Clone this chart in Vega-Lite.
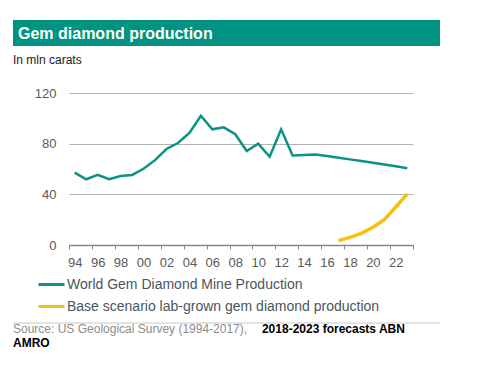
{
  "$schema": "https://vega.github.io/schema/vega-lite/v6.json",
  "padding": {"left": 12, "top": 20, "right": 5, "bottom": 5},
  "background": "white",
  "spacing": 8,
  "align": "none",
  "bounds": "full",
  "resolve": {"scale": {"color": "independent", "x": "independent", "y": "independent"}, "legend": {"color": "independent"}},
  "config": {"view": {"stroke": null}, "font": "Liberation Sans"},
  "datasets": {
    "prod": [
      {"year": 1994, "series": "World Gem Diamond Mine Production", "value": 57.1},
      {"year": 1995, "series": "World Gem Diamond Mine Production", "value": 51.9},
      {"year": 1996, "series": "World Gem Diamond Mine Production", "value": 55.3},
      {"year": 1997, "series": "World Gem Diamond Mine Production", "value": 51.9},
      {"year": 1998, "series": "World Gem Diamond Mine Production", "value": 54.5},
      {"year": 1999, "series": "World Gem Diamond Mine Production", "value": 55.3},
      {"year": 2000, "series": "World Gem Diamond Mine Production", "value": 60.2},
      {"year": 2001, "series": "World Gem Diamond Mine Production", "value": 67.0},
      {"year": 2002, "series": "World Gem Diamond Mine Production", "value": 75.8},
      {"year": 2003, "series": "World Gem Diamond Mine Production", "value": 80.5},
      {"year": 2004, "series": "World Gem Diamond Mine Production", "value": 88.5},
      {"year": 2005, "series": "World Gem Diamond Mine Production", "value": 102.0},
      {"year": 2006, "series": "World Gem Diamond Mine Production", "value": 91.3},
      {"year": 2007, "series": "World Gem Diamond Mine Production", "value": 92.9},
      {"year": 2008, "series": "World Gem Diamond Mine Production", "value": 87.4},
      {"year": 2009, "series": "World Gem Diamond Mine Production", "value": 74.2},
      {"year": 2010, "series": "World Gem Diamond Mine Production", "value": 80.0},
      {"year": 2011, "series": "World Gem Diamond Mine Production", "value": 69.7},
      {"year": 2012, "series": "World Gem Diamond Mine Production", "value": 91.3},
      {"year": 2013, "series": "World Gem Diamond Mine Production", "value": 70.7},
      {"year": 2014, "series": "World Gem Diamond Mine Production", "value": 71.1},
      {"year": 2015, "series": "World Gem Diamond Mine Production", "value": 71.4},
      {"year": 2016, "series": "World Gem Diamond Mine Production", "value": 70.2},
      {"year": 2017, "series": "World Gem Diamond Mine Production", "value": 68.9},
      {"year": 2018, "series": "World Gem Diamond Mine Production", "value": 67.6},
      {"year": 2019, "series": "World Gem Diamond Mine Production", "value": 66.3},
      {"year": 2020, "series": "World Gem Diamond Mine Production", "value": 65.0},
      {"year": 2021, "series": "World Gem Diamond Mine Production", "value": 63.5},
      {"year": 2022, "series": "World Gem Diamond Mine Production", "value": 62.1},
      {"year": 2023, "series": "World Gem Diamond Mine Production", "value": 60.6},
      {"year": 2017, "series": "Base scenario lab-grown gem diamond production", "value": 3.5},
      {"year": 2018, "series": "Base scenario lab-grown gem diamond production", "value": 6.0},
      {"year": 2019, "series": "Base scenario lab-grown gem diamond production", "value": 9.2},
      {"year": 2020, "series": "Base scenario lab-grown gem diamond production", "value": 14.0},
      {"year": 2021, "series": "Base scenario lab-grown gem diamond production", "value": 20.0},
      {"year": 2022, "series": "Base scenario lab-grown gem diamond production", "value": 30.0},
      {"year": 2023, "series": "Base scenario lab-grown gem diamond production", "value": 40.3}
    ]
  },
  "vconcat": [
    {
      "width": 371,
      "height": 26,
      "data": {"values": [{"x0": 0, "x1": 1, "label": "Gem diamond production"}]},
      "layer": [
        {
          "mark": {"type": "rect", "color": "#009382"},
          "encoding": {
            "x": {"field": "x0", "type": "quantitative", "scale": {"domain": [0, 1], "range": [-56, 371]}, "axis": null},
            "x2": {"field": "x1"},
            "y": {"datum": 0, "type": "quantitative", "scale": {"domain": [0, 1]}, "axis": null},
            "y2": {"datum": 1}
          }
        },
        {
          "mark": {"type": "text", "align": "left", "baseline": "middle", "dx": 5, "dy": 1, "fontSize": 16, "fontWeight": "bold", "color": "white"},
          "encoding": {
            "x": {"field": "x0", "type": "quantitative"},
            "y": {"datum": 0.5, "type": "quantitative"},
            "text": {"field": "label"}
          }
        }
      ]
    },
    {
      "width": 344,
      "height": 152,
      "title": {"text": "In mln carats", "anchor": "start", "frame": "group", "dx": -56, "offset": 20, "fontSize": 12, "fontWeight": "normal", "color": "#1a1a1a"},
      "data": {"name": "prod"},
      "encoding": {
        "x": {
          "field": "year", "type": "quantitative",
          "scale": {"domain": [1993.5, 2023.5], "nice": false, "zero": false},
          "axis": {
            "title": null,
            "values": [1993.5, 1994, 1995.5, 1996, 1997.5, 1998, 1999.5, 2000, 2001.5, 2002, 2003.5, 2004, 2005.5, 2006, 2007.5, 2008, 2009.5, 2010, 2011.5, 2012, 2013.5, 2014, 2015.5, 2016, 2017.5, 2018, 2019.5, 2020, 2021.5, 2022, 2023.5],
            "labelExpr": "datum.value % 1 === 0 ? slice('' + datum.value, 2) : ''",
            "tickOpacity": {"condition": {"test": "datum.value % 1 !== 0", "value": 1}, "value": 0},
            "tickSize": 4,
            "tickColor": "#888888",
            "domainColor": "#888888",
            "domainWidth": 1.5,
            "labelFontSize": 13,
            "labelColor": "#595959",
            "labelPadding": 7,
            "grid": false,
            "labelOverlap": false,
            "labelFlush": false,
            "labelBound": false
          }
        },
        "y": {
          "field": "value", "type": "quantitative",
          "scale": {"domain": [0, 120], "nice": false},
          "axis": {
            "title": null,
            "values": [0, 40, 80, 120],
            "domain": false,
            "ticks": false,
            "labelPadding": 13,
            "labelFontSize": 13,
            "labelColor": "#595959",
            "gridColor": "#b3b3b3",
            "gridWidth": 1
          }
        },
        "color": {
          "field": "series", "type": "nominal",
          "scale": {"domain": ["World Gem Diamond Mine Production", "Base scenario lab-grown gem diamond production"], "range": ["#0a9384", "#f5c010"]},
          "legend": {
            "title": null,
            "orient": "none",
            "legendX": -32,
            "legendY": 177,
            "direction": "vertical",
            "symbolType": "stroke",
            "symbolSize": 676,
            "symbolStrokeWidth": 3,
            "labelOffset": 1,
            "labelFontSize": 14,
            "labelColor": "#4b5560",
            "rowPadding": -18,
            "padding": 0,
            "labelLimit": 500
          }
        }
      },
      "layer": [
        {"transform": [{"filter": "datum.series === 'World Gem Diamond Mine Production'"}], "mark": {"type": "line", "strokeWidth": 2.5}},
        {"transform": [{"filter": "datum.series === 'Base scenario lab-grown gem diamond production'"}], "mark": {"type": "line", "strokeWidth": 3.5}}
      ]
    },
    {
      "width": 371,
      "height": 30,
      "data": {"values": [{"a": 0, "b": 1, "y": 0}]},
      "layer": [
        {
          "mark": {"type": "rule", "color": "#c8c8c8", "strokeWidth": 1},
          "encoding": {
            "x": {"field": "a", "type": "quantitative", "scale": {"domain": [0, 1], "range": [-56, 371]}, "axis": null},
            "x2": {"field": "b"},
            "y": {"field": "y", "type": "quantitative", "scale": {"domain": [0, 30], "reverse": true}, "axis": null}
          }
        },
        {
          "mark": {"type": "text", "text": "Source: US Geological Survey (1994-2017),", "align": "left", "baseline": "middle", "fontSize": 12, "color": "#8c8c8c"},
          "encoding": {"x": {"datum": 0, "type": "quantitative"}, "y": {"datum": 6, "type": "quantitative"}}
        },
        {
          "mark": {"type": "text", "text": "2018-2023 forecasts ABN", "align": "left", "baseline": "middle", "fontSize": 12, "fontWeight": "bold", "color": "#000000"},
          "encoding": {"x": {"datum": 0.583, "type": "quantitative"}, "y": {"datum": 6, "type": "quantitative"}}
        },
        {
          "mark": {"type": "text", "text": "AMRO", "align": "left", "baseline": "middle", "fontSize": 12, "fontWeight": "bold", "color": "#000000"},
          "encoding": {"x": {"datum": 0, "type": "quantitative"}, "y": {"datum": 20, "type": "quantitative"}}
        }
      ]
    }
  ]
}
